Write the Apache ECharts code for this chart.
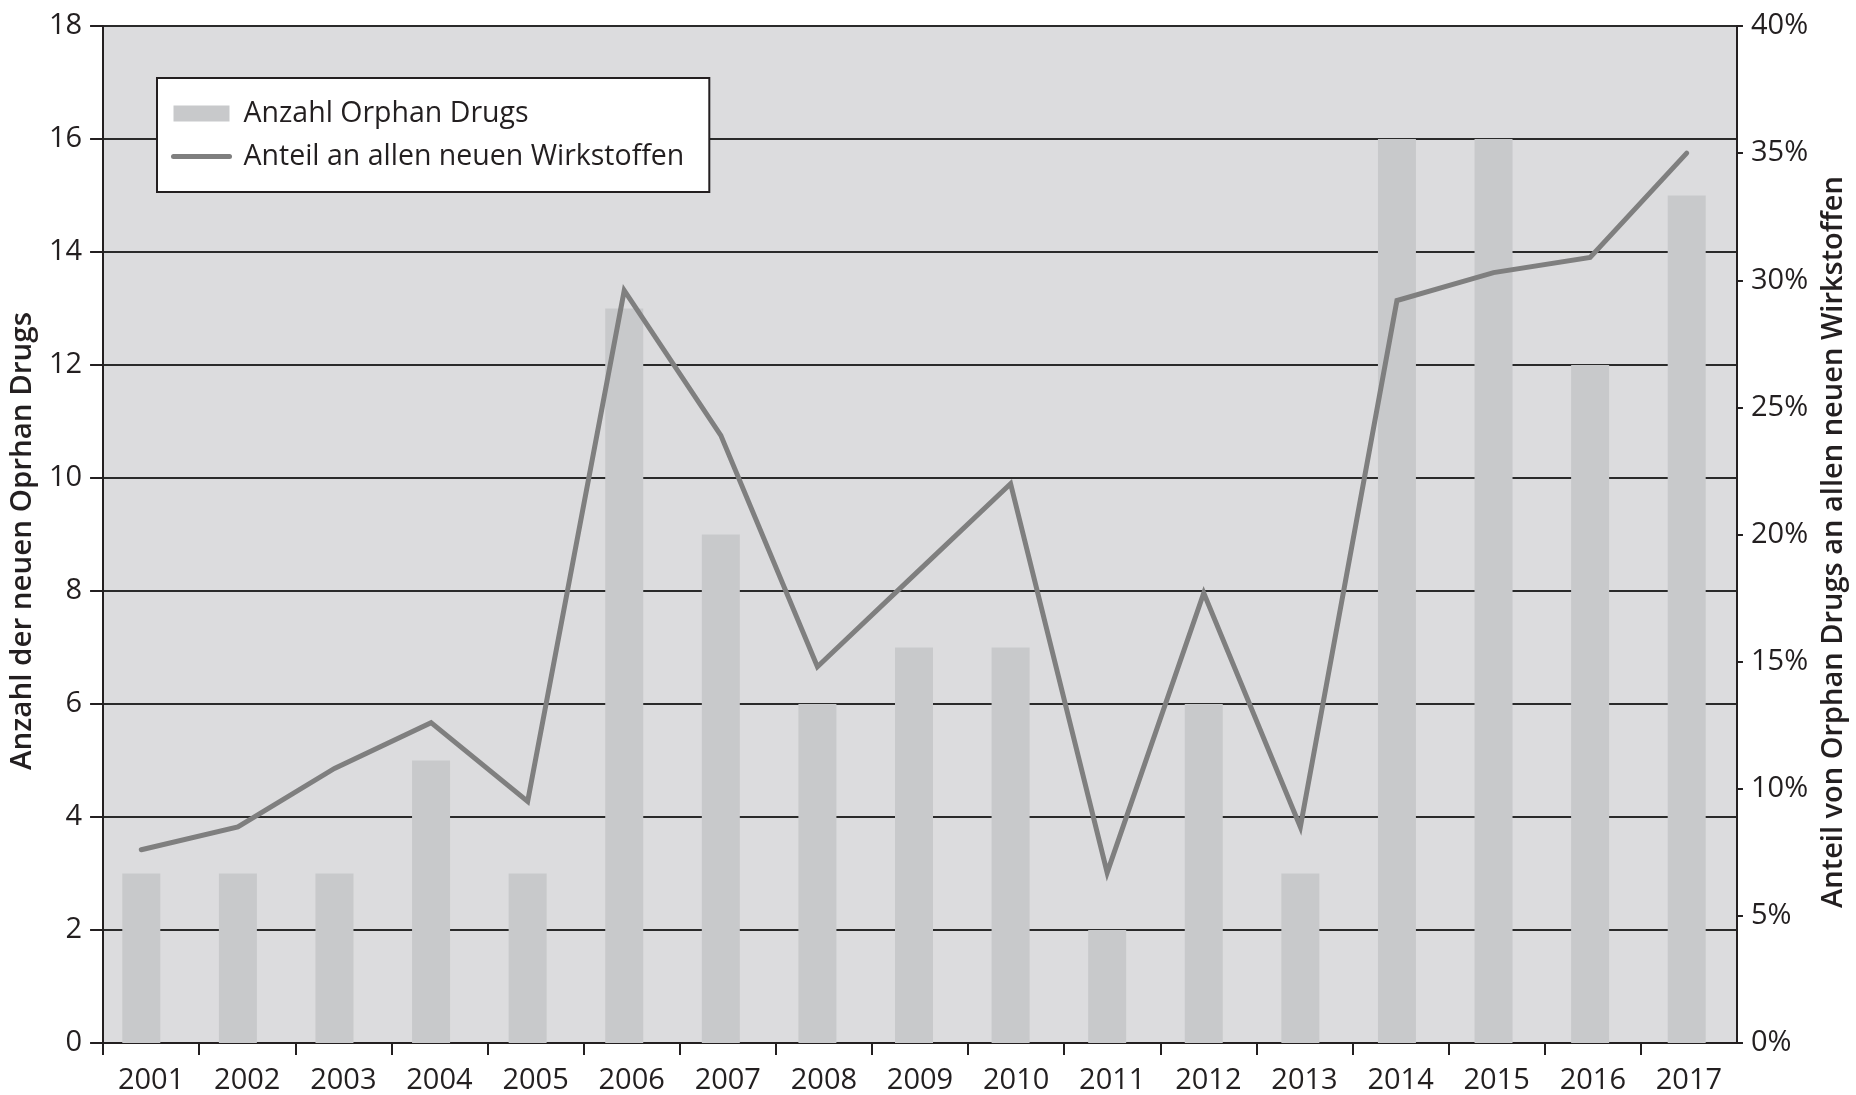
<!DOCTYPE html>
<html>
<head>
<meta charset="utf-8">
<script src="https://cdn.jsdelivr.net/npm/echarts@6/dist/echarts.min.js"></script>
<style>
  html, body { margin: 0; padding: 0; background: #ffffff; }
  #chart { width: 1856px; height: 1095px; }
</style>
</head>
<body>
<div id="chart"></div>
<script>
// ---- data ----
const years = ['2001','2002','2003','2004','2005','2006','2007','2008','2009','2010','2011','2012','2013','2014','2015','2016','2017'];
const orphanDrugCounts = [3, 3, 3, 5, 3, 13, 9, 6, 7, 7, 2, 6, 3, 16, 16, 12, 15];
const shareOfNewSubstances = [7.6, 8.5, 10.8, 12.6, 9.5, 29.6, 23.9, 14.8, 18.4, 22.0, 6.7, 17.7, 8.5, 29.2, 30.3, 30.9, 35.0];
const leftAxisTicks = { min: 0, max: 18, interval: 2 };
const rightAxisTicks = { min: 0, max: 40, interval: 5 };
const seriesNames = ['Anzahl Orphan Drugs', 'Anteil an allen neuen Wirkstoffen'];
const leftAxisTitle = 'Anzahl der neuen Oprhan Drugs';
const rightAxisTitle = 'Anteil von Orphan Drugs an allen neuen Wirkstoffen';

// ---- styling ----
const FONT = "'Open Sans', 'Noto Sans', sans-serif";
const INK = '#231f20';
const LINE_GREY = '#7f7f7f';
const BAR_GREY = '#c8c9cb';

const chart = echarts.init(document.getElementById('chart'), null, { renderer: 'canvas' });
chart.setOption({
  animation: false,
  backgroundColor: '#ffffff',
  textStyle: { fontFamily: FONT, color: INK },
  grid: [
    { left: 103, right: 119, top: 26, bottom: 52, show: true, backgroundColor: '#dcdcde', borderWidth: 0 },
    // plotting layer: the original's marks sit on a slightly wider category spacing than its tick frame
    { left: 93, right: 121, top: 26, bottom: 52, show: false }
  ],
  legend: {
    orient: 'vertical',
    left: 157, top: 78,
    backgroundColor: '#ffffff',
    borderColor: INK, borderWidth: 2,
    padding: [20, 25, 20, 14],
    itemWidth: 56, itemHeight: 16, itemGap: 12,
    textStyle: { fontFamily: FONT, fontSize: 28.5, color: INK, lineHeight: 31, padding: [0, 0, 0, 9] },
    lineStyle: { width: 5, cap: 'round', color: LINE_GREY },
    data: [
      { name: seriesNames[0], icon: 'rect' },
      { name: seriesNames[1], itemStyle: { opacity: 0 }, lineStyle: { width: 5, cap: 'round', color: LINE_GREY } }
    ]
  },
  xAxis: [
    {
      gridIndex: 0,
      type: 'category',
      data: years,
      boundaryGap: true,
      axisLine: { lineStyle: { color: INK, width: 2 } },
      axisTick: { show: true, length: 12, lineStyle: { color: INK, width: 2 } },
      axisLabel: { fontFamily: FONT, fontSize: 29, color: INK, margin: 23 },
      splitLine: { show: false }
    },
    {
      gridIndex: 1,
      type: 'category',
      data: years,
      boundaryGap: true,
      show: false
    }
  ],
  yAxis: [
    {
      gridIndex: 0,
      type: 'value',
      position: 'left',
      min: leftAxisTicks.min, max: leftAxisTicks.max, interval: leftAxisTicks.interval,
      name: leftAxisTitle,
      nameLocation: 'middle', nameRotate: 90, nameGap: 60,
      nameTextStyle: { fontFamily: FONT, fontSize: 29.5, fontWeight: 600, color: INK, padding: [0, 13, 0, 0] },
      axisLine: { show: true, lineStyle: { color: INK, width: 2 } },
      axisTick: { show: true, length: 13, lineStyle: { color: INK, width: 2 } },
      axisLabel: { fontFamily: FONT, fontSize: 29, color: INK, margin: 21 },
      splitLine: { show: true, lineStyle: { color: '#2a2a2a', width: 2 } }
    },
    {
      gridIndex: 0,
      type: 'value',
      position: 'right',
      min: rightAxisTicks.min, max: rightAxisTicks.max, interval: rightAxisTicks.interval,
      name: rightAxisTitle,
      nameLocation: 'middle', nameRotate: 90, nameGap: 81,
      nameTextStyle: { fontFamily: FONT, fontSize: 29, fontWeight: 600, color: INK, padding: [0, 15, 0, 0] },
      axisLine: { show: true, lineStyle: { color: INK, width: 2 } },
      axisTick: { show: true, length: 6, lineStyle: { color: INK, width: 2 } },
      axisLabel: { fontFamily: FONT, fontSize: 29, color: INK, margin: 14, formatter: '{value}%' },
      splitLine: { show: false }
    },
    {
      gridIndex: 1, type: 'value', show: false, splitLine: { show: false },
      min: leftAxisTicks.min, max: leftAxisTicks.max, interval: leftAxisTicks.interval
    },
    {
      gridIndex: 1, type: 'value', show: false, splitLine: { show: false },
      min: rightAxisTicks.min, max: rightAxisTicks.max, interval: rightAxisTicks.interval
    }
  ],
  series: [
    {
      name: seriesNames[0],
      type: 'bar',
      xAxisIndex: 1,
      yAxisIndex: 2,
      data: orphanDrugCounts,
      barWidth: 38,
      itemStyle: { color: BAR_GREY },
      z: 2
    },
    {
      name: seriesNames[1],
      type: 'line',
      xAxisIndex: 1,
      yAxisIndex: 3,
      data: shareOfNewSubstances,
      symbol: 'none',
      lineStyle: { color: LINE_GREY, width: 5, cap: 'round', join: 'miter' },
      itemStyle: { color: LINE_GREY },
      z: 3
    }
  ]
});
</script>
</body>
</html>
